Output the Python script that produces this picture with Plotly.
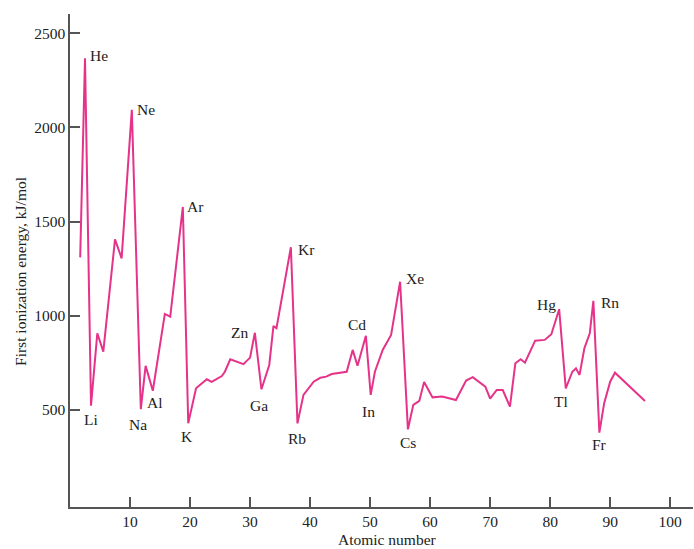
import plotly.graph_objects as go

# First ionization energy (kJ/mol) against atomic number
atomic_number = [
    1.7, 2.5, 3.5, 4.55, 5.55, 7.5, 8.6, 10.3, 11.8, 12.6,
    13.8, 15.8, 16.7, 18.8, 19.7, 21.0, 22.8, 23.6, 25.3, 25.8,
    26.7, 28.9, 30.0, 30.8, 31.9, 33.2, 33.9, 34.4, 36.8, 37.9,
    38.9, 40.6, 41.7, 42.7, 43.6, 45.0, 46.1, 47.1, 47.9, 49.3,
    50.1, 50.8, 52.1, 53.5, 55.0, 56.3, 57.2, 58.2, 59.0, 60.4,
    62.0, 64.3, 66.0, 67.1, 69.2, 70.0, 71.1, 72.1, 73.3, 74.2,
    75.1, 75.8, 77.5, 79.1, 80.2, 81.5, 82.6, 83.7, 84.3, 84.9,
    85.7, 86.6, 87.2, 88.2, 89.0, 90.0, 90.8, 95.8,
]
ionization_energy = [
    1310, 2367, 523, 907, 810, 1406, 1305, 2093, 504, 734,
    602, 1010, 995, 1578, 430, 615, 663, 649, 680, 703,
    769, 743, 778, 910, 610, 739, 946, 934, 1364, 429,
    580, 650, 671, 677, 691, 700, 703, 819, 735, 894,
    580, 703, 819, 898, 1181, 397, 527, 548, 648, 567,
    572, 553, 656, 674, 624, 560, 606, 606, 518, 748,
    769, 751, 868, 872, 902, 1035, 615, 703, 721, 686,
    827, 907, 1079, 380, 536, 650, 698, 548,
]

# Labelled elements and the atomic-number position of the point each one marks
label_symbols = ["He", "Ne", "Ar", "Li", "Na", "Al", "K", "Zn", "Ga", "Kr",
                 "Rb", "Cd", "In", "Xe", "Cs", "Hg", "Rn", "Tl", "Fr"]
label_points = [2.5, 10.3, 18.8, 3.5, 11.8, 13.8, 19.7, 30.8, 31.9, 36.8,
                37.9, 49.3, 50.1, 55.0, 56.3, 81.5, 87.2, 82.6, 88.2]

x_ticks = [10, 20, 30, 40, 50, 60, 70, 80, 90, 100]
y_ticks = [500, 1000, 1500, 2000, 2500]

# Pixel offsets of each label from its point (x right, y up)
label_offsets = {
    "He": (14, 3), "Ne": (14, 0), "Ar": (13, 0), "Li": (0, -14),
    "Na": (-3, -15), "Al": (2, -12), "K": (-1, -13), "Zn": (-15, 0),
    "Ga": (-2, -16), "Kr": (16, -2), "Rb": (0, -15), "Cd": (-9, 11),
    "In": (-2, -17), "Xe": (15, 3), "Cs": (0, -13), "Hg": (-13, 5),
    "Rn": (17, -2), "Tl": (-5, -13), "Fr": (0, -12),
}

LINE_COLOR = "#e5338a"
AXIS_COLOR = "#555555"
FONT = "Liberation Serif, Times New Roman, serif"
TEXT_COLOR = "#222222"

fig = go.Figure()
fig.add_trace(go.Scatter(
    x=atomic_number, y=ionization_energy, mode="lines",
    line=dict(color=LINE_COLOR, width=2), hoverinfo="skip",
))

annotations = []
for sym, xp in zip(label_symbols, label_points):
    yp = ionization_energy[atomic_number.index(xp)]
    dx, dy = label_offsets[sym]
    annotations.append(dict(
        x=xp, y=yp, xref="x", yref="y", text=sym, showarrow=False,
        xanchor="center", yanchor="middle", xshift=dx, yshift=dy,
        font=dict(family=FONT, size=15.5, color=TEXT_COLOR),
    ))

annotations.append(dict(
    text="First ionization energy, kJ/mol", xref="paper", yref="paper",
    x=-0.0803, y=0.4787, textangle=-90, showarrow=False,
    xanchor="center", yanchor="middle",
    font=dict(family=FONT, size=15.5, color=TEXT_COLOR),
))
annotations.append(dict(
    text="Atomic number", xref="paper", yref="paper",
    x=0.5104, y=-0.0669, showarrow=False,
    xanchor="center", yanchor="middle",
    font=dict(family=FONT, size=15.5, color=TEXT_COLOR),
))

fig.update_layout(
    width=694, height=549,
    margin=dict(l=70, r=1, t=14, b=42),
    paper_bgcolor="white", plot_bgcolor="white",
    showlegend=False,
    annotations=annotations,
    xaxis=dict(
        range=[0, 103.8], tickvals=x_ticks, ticks="inside", ticklen=10,
        tickwidth=1.5, tickcolor=AXIS_COLOR, showline=True, linecolor=AXIS_COLOR,
        linewidth=1.5, showgrid=False, zeroline=False,
        tickfont=dict(family=FONT, size=15.5, color=TEXT_COLOR),
    ),
    yaxis=dict(
        range=[-15, 2602], tickvals=y_ticks, ticks="inside", ticklen=10,
        tickwidth=1.5, tickcolor=AXIS_COLOR, showline=True, linecolor=AXIS_COLOR,
        linewidth=1.5, showgrid=False, zeroline=False,
        tickfont=dict(family=FONT, size=15.5, color=TEXT_COLOR),
    ),
)

fig.write_html("out.html")
